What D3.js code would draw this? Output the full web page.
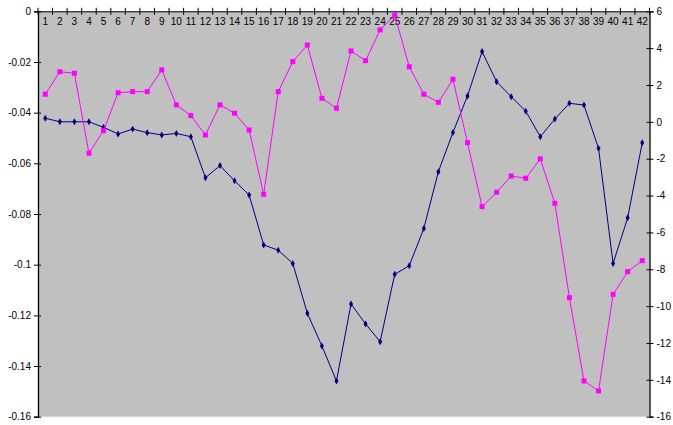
<!DOCTYPE html>
<html><head><meta charset="utf-8">
<script src="https://cdn.jsdelivr.net/npm/d3@7"></script>
<style>body{margin:0;background:#fff}svg{display:block}text{font-family:Arial,"Liberation Sans",sans-serif;fill:#000}</style>
</head><body><svg id="c" width="673" height="425"></svg>
<script>
const categories = d3.range(1, 43).map(String);
const seriesNavy = [-0.0422,-0.0436,-0.0436,-0.0436,-0.0458,-0.0484,-0.0465,-0.0479,-0.0488,-0.0482,-0.0495,-0.0657,-0.0609,-0.0669,-0.0725,-0.0922,-0.0943,-0.0995,-0.1192,-0.1321,-0.1459,-0.1155,-0.1234,-0.1304,-0.1038,-0.1004,-0.0857,-0.0633,-0.0478,-0.0334,-0.0159,-0.0278,-0.0337,-0.0394,-0.0495,-0.0425,-0.0363,-0.0370,-0.0541,-0.0995,-0.0815,-0.0519];
const seriesPink = [1.50,2.72,2.64,-1.70,-0.48,1.58,1.64,1.64,2.82,0.92,0.34,-0.71,0.92,0.47,-0.44,-3.93,1.64,3.27,4.17,1.28,0.74,3.85,3.32,4.99,5.80,2.99,1.50,1.06,2.31,-1.13,-4.60,-3.82,-2.94,-3.06,-2.01,-4.42,-9.54,-14.06,-14.60,-9.36,-8.13,-7.53];
const leftTicks = [0,-0.02,-0.04,-0.06,-0.08,-0.1,-0.12,-0.14,-0.16];
const rightTicks = [6,4,2,0,-2,-4,-6,-8,-10,-12,-14,-16];

const L = 38, R = 649.5, T = 11.3, B = 416.7;
const svg = d3.select("#c");
const x = d3.scaleBand().domain(categories).range([L, R]);
const yL = d3.scaleLinear().domain([-0.16, 0]).range([B, T]);
const yR = d3.scaleLinear().domain([-16, 6]).range([B, T]);

svg.append("rect").attr("x", L).attr("y", T).attr("width", R - L).attr("height", B - T).attr("fill", "#c0c0c0");

// left axis
const gl = svg.append("g").attr("transform", `translate(${L},0)`)
  .call(d3.axisLeft(yL).tickValues(leftTicks).tickFormat(d => d === 0 ? "0" : String(d)).tickSize(4).tickPadding(3));
gl.selectAll(".tick line").attr("x2", -4).attr("x1", 3);
// right axis
const gr = svg.append("g").attr("transform", `translate(${R},0)`)
  .call(d3.axisRight(yR).tickValues(rightTicks).tickSize(4).tickPadding(3).tickFormat(d => String(d)));
gr.selectAll(".tick line").attr("x1", -3).attr("x2", 4);
[gl, gr].forEach(g => {
  g.select(".domain").attr("stroke", "#000").attr("stroke-width", 1.3);
  g.selectAll(".tick line").attr("stroke", "#000");
  g.selectAll("text").attr("font-size", 10).attr("fill", "#000");
});

// top category axis at y = 0
const y0 = yL(0);
const gt = svg.append("g").attr("transform", `translate(0,${y0})`)
  .call(d3.axisBottom(x).tickSize(0).tickPadding(7));
gt.select(".domain").attr("stroke", "#000").attr("stroke-width", 1);
gt.selectAll("text").attr("font-size", 10).attr("fill", "#000");
const bounds = categories.map(c => x(c)).concat([R]);
svg.append("g").selectAll("line").data(bounds).join("line")
  .attr("x1", d => d).attr("x2", d => d).attr("y1", y0 - 3.5).attr("y2", y0 + 3.5)
  .attr("stroke", "#000").attr("stroke-width", 1);

const cx = c => x(c) + x.bandwidth() / 2;

// navy series (left axis)
const navyLine = d3.line().x((d, i) => cx(categories[i])).y(d => yL(d));
svg.append("path").datum(seriesNavy).attr("d", navyLine).attr("fill", "none").attr("stroke", "#000080").attr("stroke-width", 1);
svg.append("g").selectAll("path").data(seriesNavy).join("path")
  .attr("d", d3.symbol(d3.symbolDiamond, 14))
  .attr("transform", (d, i) => `translate(${cx(categories[i])},${yL(d)})`)
  .attr("fill", "#000080");

// pink series (right axis)
const pinkLine = d3.line().x((d, i) => cx(categories[i])).y(d => yR(d));
svg.append("path").datum(seriesPink).attr("d", pinkLine).attr("fill", "none").attr("stroke", "#ff00ff").attr("stroke-width", 1);
svg.append("g").selectAll("rect").data(seriesPink).join("rect")
  .attr("x", (d, i) => cx(categories[i]) - 2.5).attr("y", d => yR(d) - 2.5)
  .attr("width", 5).attr("height", 5).attr("fill", "#ff00ff");
</script></body></html>
